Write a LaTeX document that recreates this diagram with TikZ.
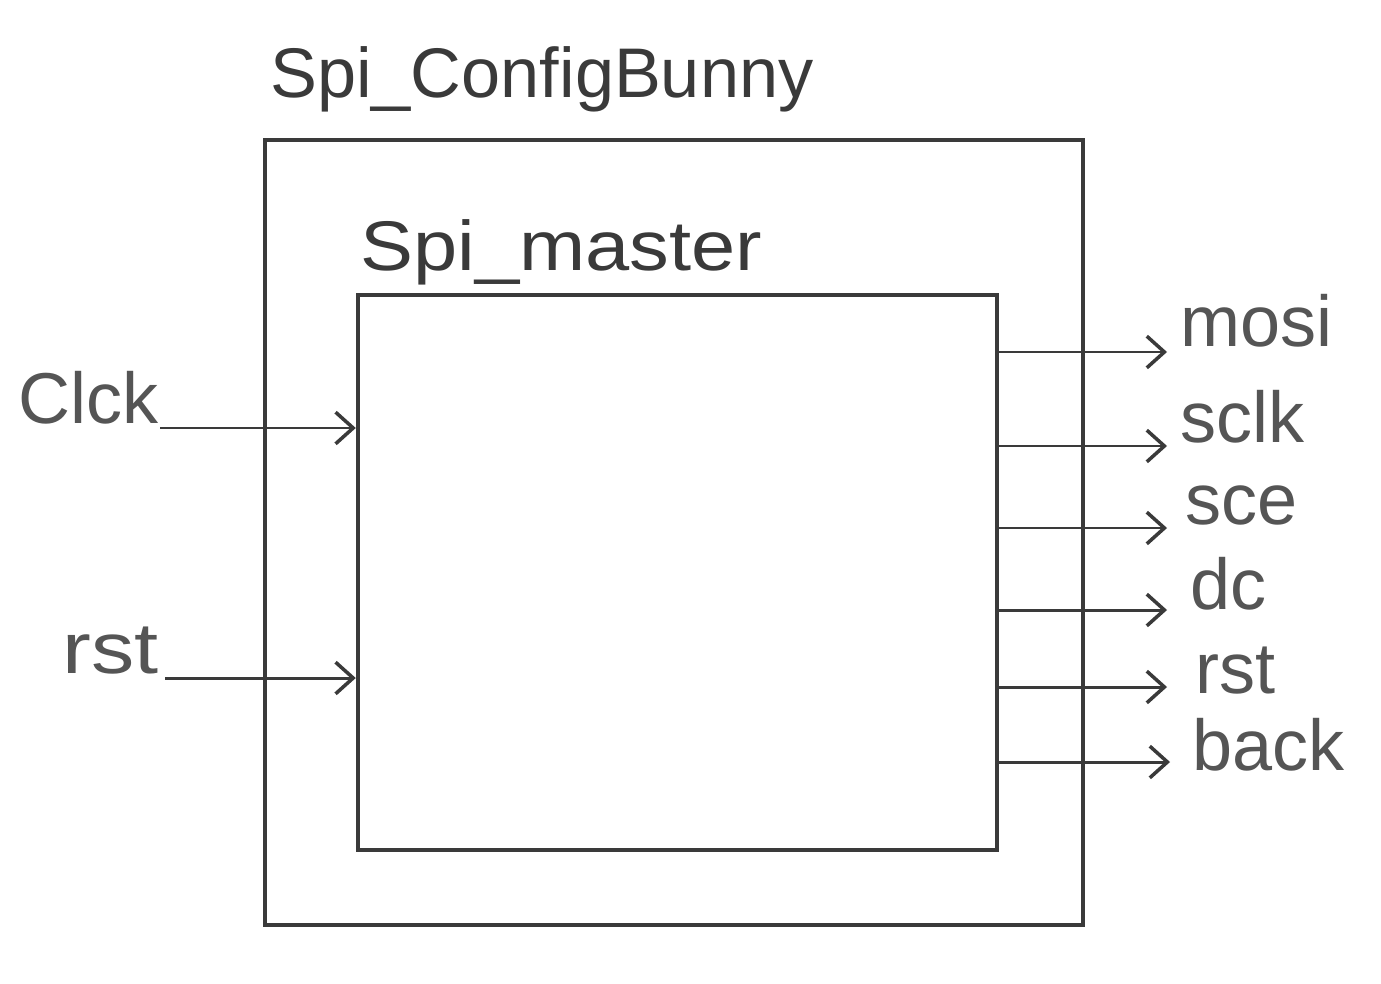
\documentclass[tikz,border=0pt]{standalone}
\usepackage{fontspec}
\setmainfont{Liberation Sans}
\usetikzlibrary{arrows.meta}
\definecolor{pencil}{HTML}{3A3A3A}
\definecolor{pencillight}{HTML}{555555}
\begin{document}
\begin{tikzpicture}[x=0.02cm,y=-0.02cm,
  boxline/.style={draw=pencil,line width=2.6pt,inner sep=0pt},
  sig/.style={draw=pencil,line width=1.7pt,-{Straight Barb[length=10pt,width=18pt,line width=2pt]}},
  lbl/.style={text=pencillight,font=\fontsize{41}{48}\selectfont,inner sep=0pt},
  ttl/.style={text=pencil,font=\fontsize{40}{48}\selectfont,inner sep=0pt}]
\useasboundingbox[fill=white] (0,0) rectangle (1381,983);
% boxes
\node[boxline,minimum width=16.36cm,minimum height=15.7cm] (bunny) at (674,532.5) {};
\node[boxline,minimum width=12.78cm,minimum height=11.1cm] (master) at (677.5,572.5) {};
% titles
\node[ttl,anchor=base west] (tbunny) at (270,98) {Spi\_ConfigBunny};
\node[ttl,anchor=base west,xscale=1.13] (tmaster) at (360,270) {Spi\_master};
% inputs
\node[lbl,anchor=base west] (lclk) at (18,423) {Clck};
\node[lbl,anchor=base west,xscale=1.2] (lrst) at (62,673) {rst};
\coordinate (iclk) at (160,428);
\coordinate (irst) at (165,678);
\draw[sig] (iclk) -- (iclk -| master.west);
\draw[sig] (irst) -- (irst -| master.west);
% outputs
\coordinate (o1) at (1167,352);
\coordinate (o2) at (1167,446);
\coordinate (o3) at (1167,528);
\coordinate (o4) at (1167,610);
\coordinate (o5) at (1167,687);
\coordinate (o6) at (1170,762);
\draw[sig] (master.east |- o1) -- (o1);
\draw[sig] (master.east |- o2) -- (o2);
\draw[sig] (master.east |- o3) -- (o3);
\draw[sig] (master.east |- o4) -- (o4);
\draw[sig] (master.east |- o5) -- (o5);
\draw[sig] (master.east |- o6) -- (o6);
\node[lbl,anchor=base west] (lmosi) at (1180,346) {mosi};
\node[lbl,anchor=base west] (lsclk) at (1180,442) {sclk};
\node[lbl,anchor=base west] (lsce) at (1185,524) {sce};
\node[lbl,anchor=base west] (ldc) at (1190,609) {dc};
\node[lbl,anchor=base west] (lrsto) at (1195,693) {rst};
\node[lbl,anchor=base west] (lback) at (1192,770) {back};
\end{tikzpicture}
\end{document}
